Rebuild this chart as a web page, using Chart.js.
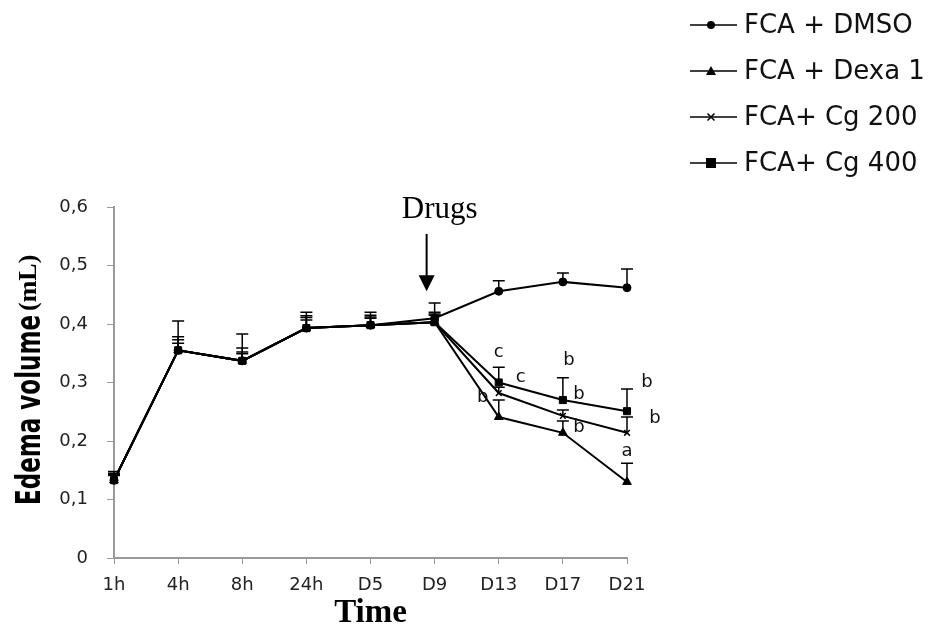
<!DOCTYPE html>
<html>
<head>
<meta charset="utf-8">
<script src="https://cdn.jsdelivr.net/npm/chart.js@4"></script>
<style>
    body { margin: 0; background: #fff; }
    #wrap { width: 942px; height: 633px; }
</style>
</head>
<body>
<div id="wrap"><canvas id="main"></canvas></div>
<script>
const times = ["1h", "4h", "8h", "24h", "D5", "D9", "D13", "D17", "D21"];

const dmso = [0.133, 0.355, 0.337, 0.393, 0.398, 0.410, 0.456, 0.472, 0.462];
const dexa = [0.133, 0.355, 0.337, 0.393, 0.398, 0.403, 0.241, 0.214, 0.130];
const cg200 = [0.133, 0.355, 0.337, 0.393, 0.398, 0.403, 0.282, 0.243, 0.214];
const cg400 = [0.133, 0.355, 0.337, 0.393, 0.398, 0.403, 0.300, 0.270, 0.251];

// upper error (SEM) for each point
const dmsoErr = [0.015, 0.050, 0.046, 0.027, 0.022, 0.026, 0.018, 0.015, 0.032];
const dexaErr = [0.010, 0.023, 0.022, 0.021, 0.017, 0.017, 0.029, 0.020, 0.032];
const cg200Err = [0.008, 0.012, 0.012, 0.014, 0.012, 0.012, 0.010, 0.010, 0.027];
const cg400Err = [0.012, 0.018, 0.015, 0.018, 0.014, 0.014, 0.026, 0.038, 0.038];

const seriesNames = ["FCA + DMSO", "FCA + Dexa 1", "FCA+ Cg 200", "FCA+ Cg 400"];

// significance letters: [text, time, value]
const letters = [
    ["c", "D13", 0.352], ["c", "D13", 0.308], ["b", "D13", 0.274],
    ["b", "D17", 0.338], ["b", "D17", 0.279], ["b", "D17", 0.224],
    ["b", "D21", 0.301], ["b", "D21", 0.238], ["a", "D21", 0.183]
];
const letterShift = [0, 22, -16, 6, 16, 16, 20, 28, 0];

Chart.defaults.font.family = "'DejaVu Sans', sans-serif";
Chart.defaults.color = "#222";

function drawMarker(ctx, style, x, y) {
    ctx.save();
    ctx.fillStyle = "#000";
    ctx.strokeStyle = "#000";
    ctx.lineWidth = 1.5;
    ctx.beginPath();
    if (style === "circle") {
        ctx.arc(x, y, 4, 0, Math.PI * 2);
        ctx.fill();
    } else if (style === "triangle") {
        ctx.moveTo(x, y - 5);
        ctx.lineTo(x + 5, y + 4);
        ctx.lineTo(x - 5, y + 4);
        ctx.closePath();
        ctx.fill();
    } else if (style === "crossRot") {
        ctx.moveTo(x - 3.5, y - 3.5);
        ctx.lineTo(x + 3.5, y + 3.5);
        ctx.moveTo(x + 3.5, y - 3.5);
        ctx.lineTo(x - 3.5, y + 3.5);
        ctx.stroke();
    } else {
        ctx.rect(x - 5, y - 5, 10, 10);
        ctx.fill();
    }
    ctx.restore();
}

function fontExists(ctx, name) {
    ctx.font = "bold 30px '" + name + "', monospace";
    const a = ctx.measureText("Edema volume").width;
    ctx.font = "bold 30px '" + name + "', serif";
    const b = ctx.measureText("Edema volume").width;
    return a === b;
}

const errorBars = {
    id: "errorBars",
    afterDatasetsDraw(chart) {
        const ctx = chart.ctx;
        const y = chart.scales.y;
        ctx.save();
        ctx.strokeStyle = "#000";
        ctx.lineWidth = 1.5;
        chart.data.datasets.forEach((ds, i) => {
            const meta = chart.getDatasetMeta(i);
            meta.data.forEach((pt, j) => {
                const top = y.getPixelForValue(ds.data[j] + ds.errors[j]);
                ctx.beginPath();
                ctx.moveTo(pt.x, pt.y);
                ctx.lineTo(pt.x, top);
                ctx.moveTo(pt.x - 6, top);
                ctx.lineTo(pt.x + 6, top);
                ctx.stroke();
            });
        });
        ctx.restore();
    }
};

const extras = {
    id: "extras",
    afterDraw(chart) {
        const ctx = chart.ctx;
        const xs = chart.scales.x;
        const ys = chart.scales.y;
        ctx.save();
        // letters
        ctx.font = "18px 'DejaVu Sans'";
        ctx.fillStyle = "#111";
        ctx.textAlign = "center";
        ctx.textBaseline = "middle";
        letters.forEach((l, i) => {
            const px = xs.getPixelForValue(times.indexOf(l[1])) + letterShift[i];
            ctx.fillText(l[0], px, ys.getPixelForValue(l[2]));
        });
        // Drugs arrow
        const ax = xs.getPixelForValue(times.indexOf("D9")) - 8;
        ctx.font = "31px 'Liberation Serif'";
        ctx.fillStyle = "#000";
        ctx.textBaseline = "alphabetic";
        ctx.fillText("Drugs", ax + 13, ys.getPixelForValue(0.581));
        const a0 = ys.getPixelForValue(0.554);
        const a1 = ys.getPixelForValue(0.456);
        ctx.strokeStyle = "#000";
        ctx.lineWidth = 2;
        ctx.beginPath();
        ctx.moveTo(ax, a0);
        ctx.lineTo(ax, a1 - 14);
        ctx.stroke();
        ctx.beginPath();
        ctx.moveTo(ax - 8, a1 - 16);
        ctx.lineTo(ax + 8, a1 - 16);
        ctx.lineTo(ax, a1);
        ctx.closePath();
        ctx.fill();
        // y axis title, mixed fonts
        const narrow = fontExists(ctx, "Liberation Sans Narrow") ? "'Liberation Sans Narrow'" : "'DejaVu Sans Condensed'";
        ctx.save();
        ctx.translate(40, 505);
        ctx.rotate(-Math.PI / 2);
        ctx.textAlign = "left";
        ctx.textBaseline = "alphabetic";
        ctx.font = "bold 33px " + narrow;
        ctx.fillText("Edema volume", 0, 0, 190);
        ctx.font = "bold 26px 'Liberation Serif'";
        ctx.fillText("(mL)", 194, -4);
        ctx.restore();
        // legend
        ctx.font = "26px 'DejaVu Sans'";
        ctx.textAlign = "left";
        ctx.textBaseline = "middle";
        chart.data.datasets.forEach((ds, i) => {
            const ly = 25 + i * 46;
            ctx.strokeStyle = "#000";
            ctx.lineWidth = 1.5;
            ctx.beginPath();
            ctx.moveTo(690, ly);
            ctx.lineTo(737, ly);
            ctx.stroke();
            drawMarker(ctx, ds.pointStyle, 711, ly);
            ctx.fillStyle = "#111";
            ctx.fillText(ds.label, 744, ly + 1);
        });
        ctx.restore();
    }
};

function makeSet(label, data, errors, style, radius) {
    return {
        label: label,
        data: data,
        errors: errors,
        borderColor: "#000",
        backgroundColor: "#000",
        borderWidth: 2,
        pointStyle: style,
        pointRadius: radius,
        pointBorderWidth: style === "crossRot" ? 1.5 : 1,
        tension: 0
    };
}

const myChart = new Chart(document.getElementById("main"), {
    type: "line",
    data: {
        labels: times,
        datasets: [
            makeSet(seriesNames[0], dmso, dmsoErr, "circle", 4),
            makeSet(seriesNames[1], dexa, dexaErr, "triangle", 5),
            makeSet(seriesNames[2], cg200, cg200Err, "crossRot", 4),
            makeSet(seriesNames[3], cg400, cg400Err, "rect", 5)
        ]
    },
    options: {
        responsive: true,
        maintainAspectRatio: false,
        animation: false,
        layout: { padding: { left: 0, right: 315, top: 207, bottom: 0 } },
        plugins: {
            legend: { display: false },
            tooltip: { enabled: false }
        },
        scales: {
            x: {
                offset: false,
                grid: { drawOnChartArea: false, color: "#999", tickLength: 6 },
                border: { color: "#999", width: 2 },
                ticks: { font: { size: 18 }, color: "#222", padding: 11, maxRotation: 0 },
                title: {
                    display: true,
                    text: "Time",
                    font: { family: "'Liberation Serif'", size: 33, weight: "bold" },
                    color: "#000",
                    padding: { top: 0, bottom: 0 }
                },
                afterFit: (s) => { s.height = 75; }
            },
            y: {
                min: 0,
                max: 0.6,
                grid: { drawOnChartArea: false, color: "#999", tickLength: 7 },
                border: { color: "#999", width: 2 },
                ticks: {
                    stepSize: 0.1,
                    font: { size: 18 },
                    color: "#222",
                    padding: 19,
                    callback: (v) => v === 0 ? "0" : v.toFixed(1).replace(".", ",")
                },
                afterFit: (s) => { s.width = 114; }
            }
        }
    },
    plugins: [errorBars, extras]
});
</script>
</body>
</html>
